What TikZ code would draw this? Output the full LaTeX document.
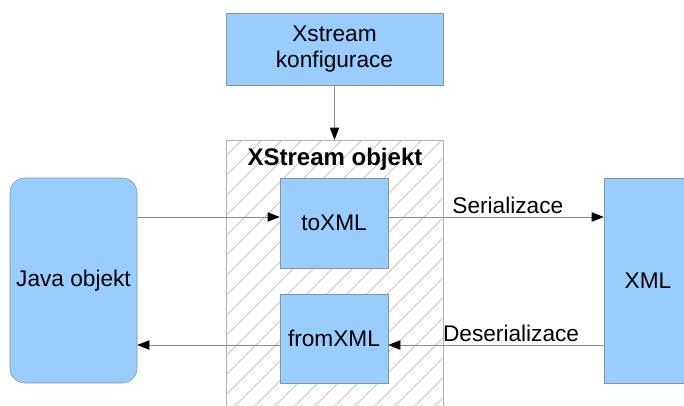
\documentclass[tikz,border=0pt]{standalone}
\usepackage{fontspec}
\setmainfont{Liberation Sans}
\usepackage{tikz}
\usetikzlibrary{arrows.meta,patterns.meta}
\usetikzlibrary{calc,positioning}
\definecolor{boxblue}{HTML}{99CCFF}
\definecolor{boxline}{HTML}{8094AA}

\begin{document}
\begin{tikzpicture}[x=0.75pt, y=-0.75pt,
    box/.style={draw=boxline, fill=boxblue, align=center, inner sep=0pt, font=\fontsize{17}{19.5}\selectfont},
    conn/.style={draw=gray!90, -{Triangle[length=9pt,width=7pt,color=black]}},
    lbl/.style={font=\fontsize{17}{19.5}\selectfont, inner sep=2pt}]
    \useasboundingbox (0,0) rectangle (684,405);
    \clip (0,0) rectangle (684,405);

    % vnejsi ramec XStream
    \node[draw=gray!60, pattern={Lines[angle=45,distance=10.5pt,line width=0.4pt]}, pattern color=gray!80,
          minimum width=162.75pt, minimum height=204pt, inner sep=0pt] (xstream) at (334.5,276) {};
    \node[font=\fontsize{18}{20}\selectfont\bfseries] (title) at (335,159) {XStream objekt};

    \node[box, minimum width=162.75pt, minimum height=54pt] (conf) at (334.5,49) {Xstream\\konfigurace};
    \node[box, minimum width=81pt, minimum height=67.5pt] (toxml) at (334,223) {toXML};
    \node[box, minimum width=81pt, minimum height=67pt] (fromxml) at (334,338.5) {fromXML};
    \node[box, rounded corners=11pt, minimum width=95.25pt, minimum height=153.75pt] (java) at (73.5,280.5) {Java objekt};
    \node[box, minimum width=66pt, minimum height=153.75pt] (xml) at (648,280.5) {XML};

    \coordinate (ser) at (0,217);
    \coordinate (deser) at (0,345);

    \draw[conn] (conf.south) -- (xstream.north);
    \draw[conn] (java.east |- ser) -- (toxml.west |- ser);
    \draw[conn] (toxml.east |- ser) -- node[lbl, above, pos=0.555] (serlbl) {Serializace} (xml.west |- ser);
    \draw[conn] (xml.west |- deser) -- node[lbl, above, pos=0.43] (deserlbl) {Deserializace} (fromxml.east |- deser);
    \draw[conn] (fromxml.west |- deser) -- (java.east |- deser);
\end{tikzpicture}
\end{document}
